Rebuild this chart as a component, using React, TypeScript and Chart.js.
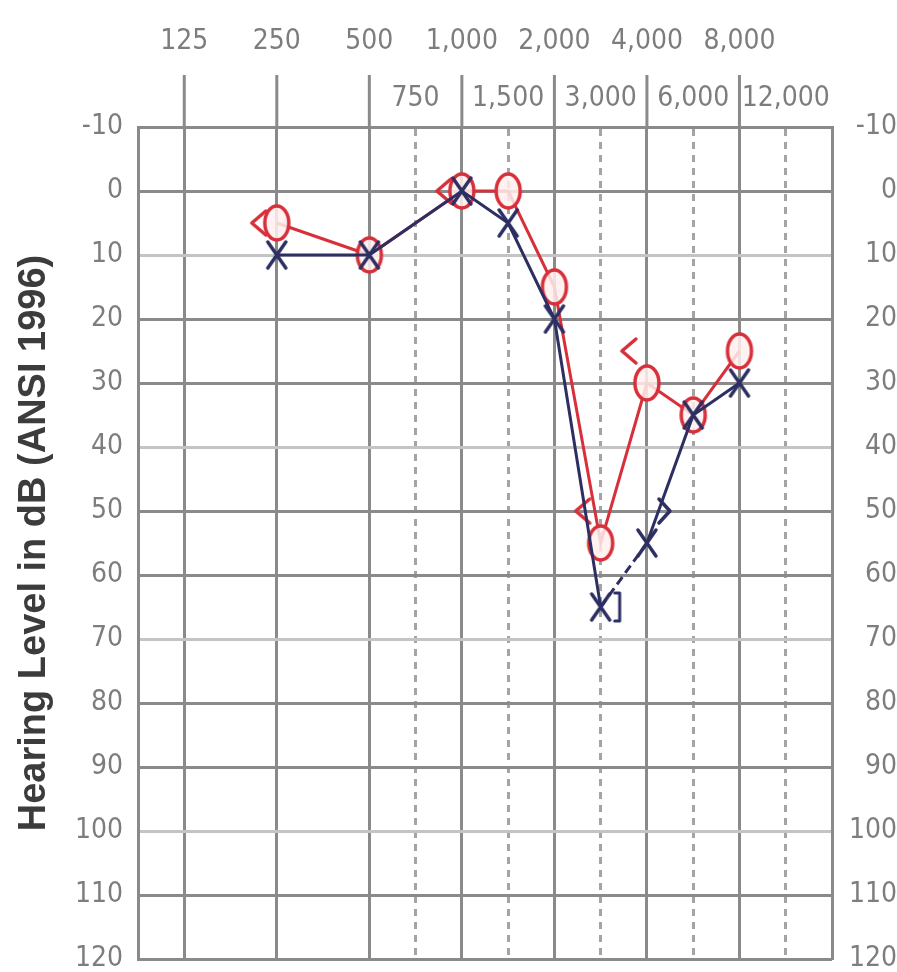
import { useEffect, useRef } from "react";
import { Chart, registerables } from "chart.js";

Chart.register(...registerables);

// ---- Data ----
const topRowFreqs = [125, 250, 500, 1000, 2000, 4000, 8000];
const topRowLabels = ["125", "250", "500", "1,000", "2,000", "4,000", "8,000"];
const secondRowFreqs = [750, 1500, 3000, 6000, 12000];
const secondRowLabels = ["750", "1,500", "3,000", "6,000", "12,000"];
const lightDbLines = [10, 40, 70, 100];

const airFreqs = [250, 500, 1000, 1500, 2000, 3000, 4000, 6000, 8000];
const rightAirDb = [5, 10, 0, 0, 15, 55, 30, 35, 25];
const leftAirDb = [10, 10, 0, 5, 20, 65, 55, 35, 30];
const rightBoneFreqs = [250, 1000, 3000, 4000];
const rightBoneDb = [5, 0, 50, 25];
const leftBoneFreqs = [4000];
const leftBoneDb = [50];
const leftMaskedFreqs = [3000];
const leftMaskedDb = [65];

// ---- Styles ----
const gridDark = "#8a8a8a";
const gridLight = "#c4c4c4";
const dashColor = "#a4a4a4";
const labelColor = "#7d7d7d";
const titleColor = "#3c3c3c";
const red = "#d8303b";
const navy = "#2d2f63";
const tickFont = { family: "'DejaVu Sans Condensed', 'Liberation Sans', sans-serif", size: 28 };

// audiogram octave position: 125 Hz -> 0, 250 -> 1, 750 -> 2.5 ...
const pos = (f: number) => Math.round(Math.log2(f / 125) * 2) / 2;
const isHalf = (v: number) => Math.abs(v - Math.floor(v) - 0.5) < 1e-6;
const gridFreqs = [...topRowFreqs, ...secondRowFreqs].sort((a, b) => a - b);

function makeSymbol(draw: (g: CanvasRenderingContext2D, cx: number, cy: number) => void) {
  const c = document.createElement("canvas");
  c.width = 64;
  c.height = 46;
  const g = c.getContext("2d")!;
  g.lineCap = "round";
  g.lineJoin = "round";
  draw(g, 32, 23);
  return c;
}

const topBandLines = {
  id: "topBandLines",
  afterDraw(chart: any) {
    const { ctx, chartArea, scales } = chart;
    const x = scales.x;
    ctx.save();
    ctx.strokeStyle = gridDark;
    ctx.lineWidth = 3;
    topRowFreqs.forEach((f) => {
      const px = x.getPixelForValue(pos(f));
      ctx.beginPath();
      ctx.moveTo(px, chartArea.top);
      ctx.lineTo(px, chartArea.top - 52);
      ctx.stroke();
    });
    ctx.restore();
  },
};

export default function App() {
  const ref = useRef<HTMLCanvasElement>(null);

  useEffect(() => {
    document.body.style.margin = "0";
    const oSym = makeSymbol((g, cx, cy) => {
      g.beginPath();
      g.ellipse(cx, cy, 12, 17, 0, 0, Math.PI * 2);
      g.fillStyle = "rgba(255,240,238,0.85)";
      g.fill();
      g.strokeStyle = red;
      g.lineWidth = 3.5;
      g.stroke();
    });
    const xSym = makeSymbol((g, cx, cy) => {
      g.strokeStyle = navy;
      g.lineWidth = 3.5;
      g.beginPath();
      g.moveTo(cx - 9, cy - 13);
      g.lineTo(cx + 9, cy + 13);
      g.moveTo(cx + 9, cy - 13);
      g.lineTo(cx - 9, cy + 13);
      g.stroke();
    });
    const ltSym = makeSymbol((g, cx, cy) => {
      g.strokeStyle = red;
      g.lineWidth = 3.5;
      g.beginPath();
      g.moveTo(cx - 11, cy - 12);
      g.lineTo(cx - 25, cy);
      g.lineTo(cx - 11, cy + 12);
      g.stroke();
    });
    const gtSym = makeSymbol((g, cx, cy) => {
      g.strokeStyle = navy;
      g.lineWidth = 3.5;
      g.beginPath();
      g.moveTo(cx + 12, cy - 12);
      g.lineTo(cx + 23, cy);
      g.lineTo(cx + 12, cy + 12);
      g.stroke();
    });
    const brSym = makeSymbol((g, cx, cy) => {
      g.strokeStyle = navy;
      g.lineWidth = 3;
      g.beginPath();
      g.moveTo(cx + 14, cy - 14);
      g.lineTo(cx + 19, cy - 14);
      g.lineTo(cx + 19, cy + 14);
      g.lineTo(cx + 14, cy + 14);
      g.stroke();
    });

    const toXY = (fs: number[], ds: number[]) => fs.map((f, i) => ({ x: pos(f), y: ds[i] }));

    const chart = new Chart(ref.current!, {
      type: "scatter",
      data: {
        datasets: [
          {
            label: "Left air",
            data: toXY(airFreqs, leftAirDb),
            showLine: true,
            borderColor: navy,
            borderWidth: 3,
            pointStyle: xSym as any,
            pointRadius: 10,
            segment: { borderDash: (c: any) => (c.p0DataIndex === 5 ? [9, 5] : undefined) },
          },
          { label: "Left bone", data: toXY(leftBoneFreqs, leftBoneDb), showLine: false, pointStyle: gtSym as any, pointRadius: 10 },
          { label: "Left masked", data: toXY(leftMaskedFreqs, leftMaskedDb), showLine: false, pointStyle: brSym as any, pointRadius: 10 },
          {
            label: "Right air",
            data: toXY(airFreqs, rightAirDb),
            showLine: true,
            borderColor: red,
            borderWidth: 3,
            pointStyle: oSym as any,
            pointRadius: 10,
          },
          { label: "Right bone", data: toXY(rightBoneFreqs, rightBoneDb), showLine: false, pointStyle: ltSym as any, pointRadius: 10 },
        ],
      },
      options: {
        animation: false,
        responsive: true,
        maintainAspectRatio: false,
        layout: { padding: { top: 0, left: 0, right: 0, bottom: 13 } },
        plugins: { legend: { display: false }, tooltip: { enabled: false } },
        scales: {
          x: {
            type: "linear",
            position: "top",
            min: -0.5,
            max: 7,
            weight: 0,
            afterBuildTicks: (s: any) => {
              s.ticks = gridFreqs.map((f) => ({ value: pos(f) }));
            },
            afterFit: (s: any) => {
              s.height = 55;
              s.paddingLeft = 0;
              s.paddingRight = 0;
            },
            ticks: {
              autoSkip: false,
              maxRotation: 0,
              padding: 11,
              color: labelColor,
              font: tickFont,
              callback: (v: any) => {
                const i = secondRowFreqs.findIndex((f) => pos(f) === v);
                return i >= 0 ? secondRowLabels[i] : "";
              },
            },
            grid: {
              drawTicks: false,
              lineWidth: 3,
              color: (c: any) => (c.tick && isHalf(c.tick.value) ? dashColor : gridDark),
            },
            border: {
              display: true,
              color: gridDark,
              width: 3,
              dash: (c: any) => (c.tick && isHalf(c.tick.value) ? [7, 6] : []),
            },
          },
          xTop: {
            type: "linear",
            position: "top",
            min: -0.5,
            max: 7,
            weight: 1,
            afterBuildTicks: (s: any) => {
              s.ticks = topRowFreqs.map((f) => ({ value: pos(f) }));
            },
            afterFit: (s: any) => {
              s.height = 72;
              s.paddingLeft = 0;
              s.paddingRight = 0;
            },
            ticks: {
              autoSkip: false,
              maxRotation: 0,
              padding: 13,
              color: labelColor,
              font: tickFont,
              callback: (v: any) => {
                const i = topRowFreqs.findIndex((f) => pos(f) === v);
                return i >= 0 ? topRowLabels[i] : "";
              },
            },
            grid: { display: false, drawTicks: false },
            border: { display: false },
          },
          y: {
            type: "linear",
            position: "left",
            reverse: true,
            min: -10,
            max: 120,
            afterFit: (s: any) => {
              s.width = 138;
              s.paddingTop = 0;
              s.paddingBottom = 0;
            },
            ticks: {
              stepSize: 10,
              padding: 15,
              color: labelColor,
              font: tickFont,
              callback: (v: any) => String(v),
            },
            grid: {
              drawTicks: false,
              lineWidth: 3,
              color: (c: any) => (c.tick && lightDbLines.includes(c.tick.value) ? gridLight : gridDark),
            },
            border: { display: true, color: gridDark, width: 3 },
            title: {
              display: true,
              text: "Hearing Level in dB (ANSI 1996)",
              color: titleColor,
              padding: { top: 12, bottom: 0 },
              font: { family: "'Liberation Sans', Arial, sans-serif", size: 38, weight: "bold" },
            },
          },
          y2: {
            type: "linear",
            position: "right",
            reverse: true,
            min: -10,
            max: 120,
            afterFit: (s: any) => {
              s.width = 65;
              s.paddingTop = 0;
              s.paddingBottom = 0;
            },
            ticks: {
              stepSize: 10,
              padding: 0,
              crossAlign: "far",
              color: labelColor,
              font: tickFont,
              callback: (v: any) => String(v),
            },
            grid: { drawOnChartArea: false, drawTicks: false },
            border: { display: true, color: gridDark, width: 3 },
          },
        },
      },
      plugins: [topBandLines],
    } as any);

    return () => chart.destroy();
  }, []);

  return (
    <div style={{ position: "relative", width: 897, height: 972 }}>
      <canvas ref={ref} />
    </div>
  );
}
